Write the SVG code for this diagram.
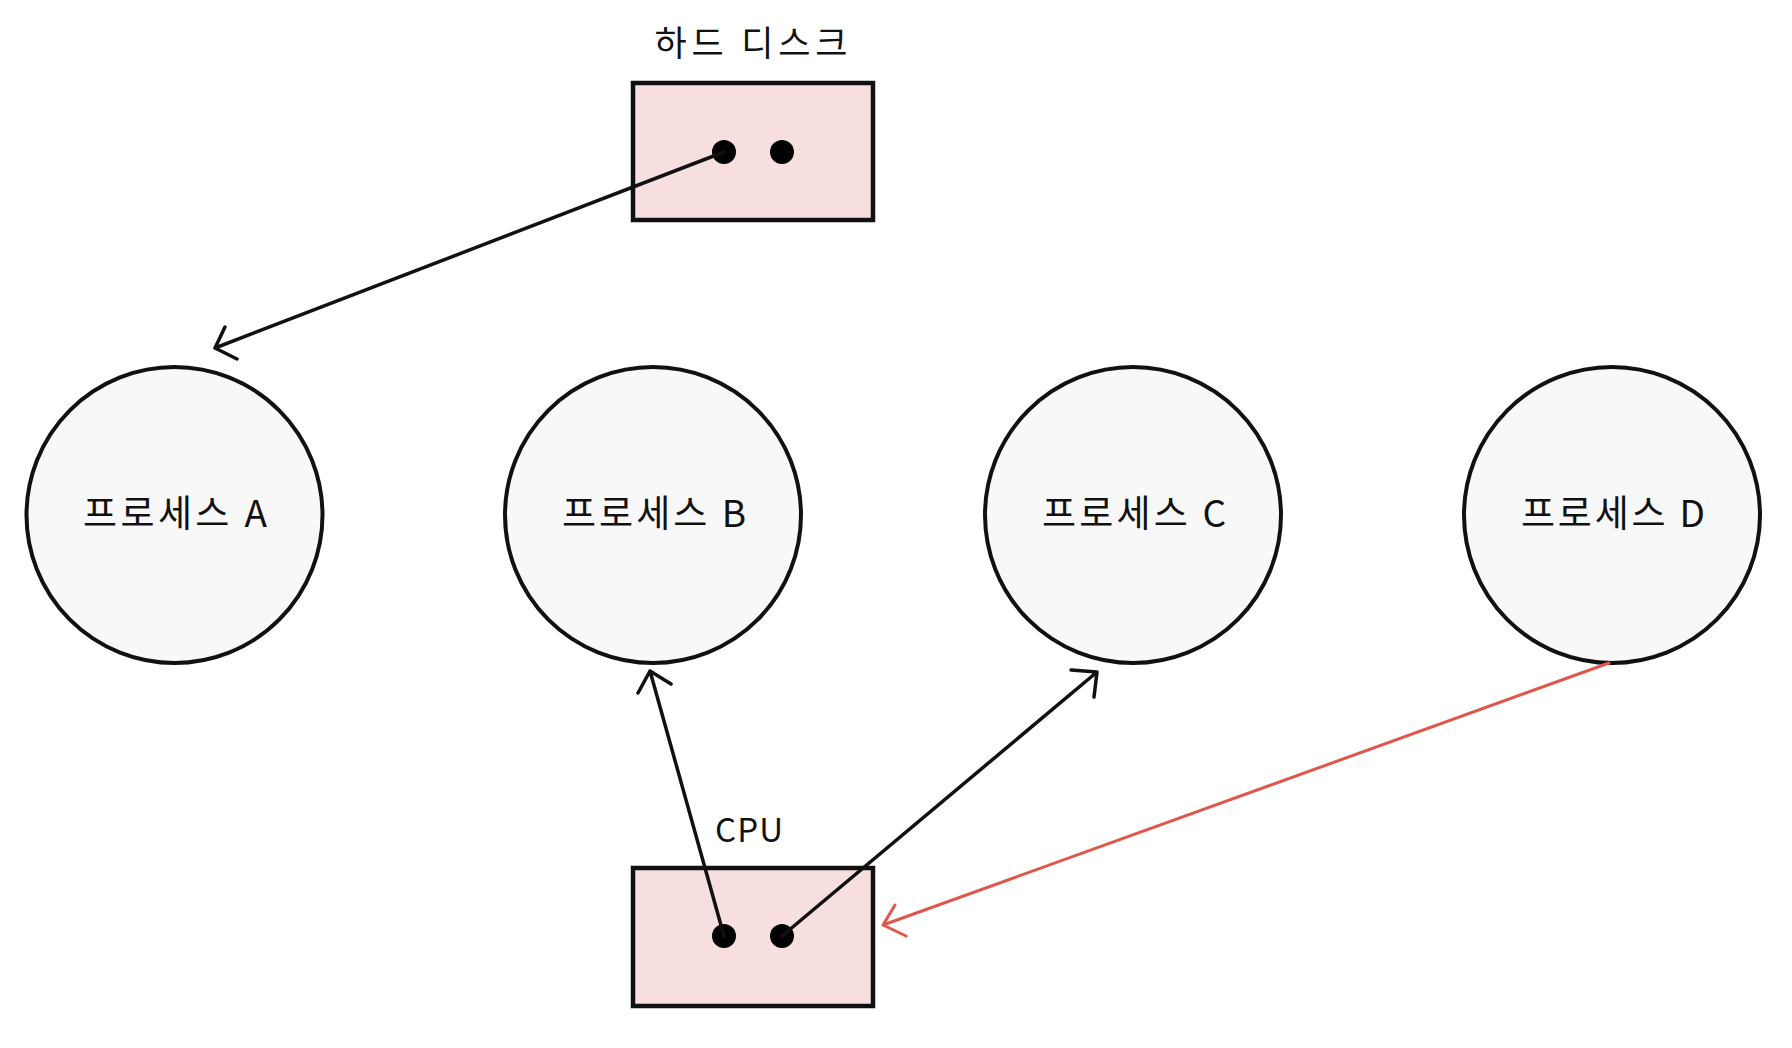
<svg xmlns="http://www.w3.org/2000/svg" width="1792" height="1048" viewBox="0 0 1792 1048">
<style>
.box{fill:#f7dfe0;stroke:#111;stroke-width:4.5}
.proc{fill:#f8f8f8;stroke:#111;stroke-width:4}
.dot{fill:#000}
.lbl{font-family:"Noto Sans CJK KR","Noto Sans",sans-serif;fill:#111;text-anchor:middle}
.edge{fill:none;stroke:#111;stroke-width:3.5;stroke-linecap:round;stroke-linejoin:round}
.red{fill:none;stroke:#e0574a;stroke-width:3;stroke-linecap:round;stroke-linejoin:round}
</style>
<rect width="1792" height="1048" fill="#fff"/>
<g id="hdd">
<text class="lbl" x="751" y="56" font-size="35" textLength="193" lengthAdjust="spacing">하드 디스크</text>
<rect class="box" x="633" y="83" width="240" height="137"/>
<circle class="dot" cx="724" cy="152" r="12"/>
<circle class="dot" cx="782" cy="152" r="12"/>
</g>
<g id="procA">
<circle class="proc" cx="174.5" cy="515" r="148"/>
<text class="lbl" x="175" y="527" font-size="37" textLength="184" lengthAdjust="spacing">프로세스 A</text>
</g>
<g id="procB">
<circle class="proc" cx="653" cy="515" r="148"/>
<text class="lbl" x="654" y="527" font-size="37" textLength="184" lengthAdjust="spacing">프로세스 B</text>
</g>
<g id="procC">
<circle class="proc" cx="1133" cy="515" r="148"/>
<text class="lbl" x="1134" y="527" font-size="37" textLength="184" lengthAdjust="spacing">프로세스 C</text>
</g>
<g id="procD">
<circle class="proc" cx="1612" cy="515" r="148"/>
<text class="lbl" x="1613" y="527" font-size="37" textLength="184" lengthAdjust="spacing">프로세스 D</text>
</g>
<g id="cpu">
<text class="lbl" x="749" y="842" font-size="33" textLength="68" lengthAdjust="spacing">CPU</text>
<rect class="box" x="633" y="868" width="240" height="138"/>
<circle class="dot" cx="724" cy="936" r="12"/>
<circle class="dot" cx="782" cy="936" r="12"/>
</g>
<g id="connectors">
<path class="edge" d="M724,152 L215,348 M225,327 L215,348 L237,359"/>
<path class="edge" d="M724,936 L650,671 M638,693 L650,671 L671,684"/>
<path class="edge" d="M782,936 L1097,672 M1071,670 L1097,672 L1094,697"/>
<path class="red" d="M1609,663 L883,925 M895,905 L883,925 L906,936"/>
</g>
</svg>
